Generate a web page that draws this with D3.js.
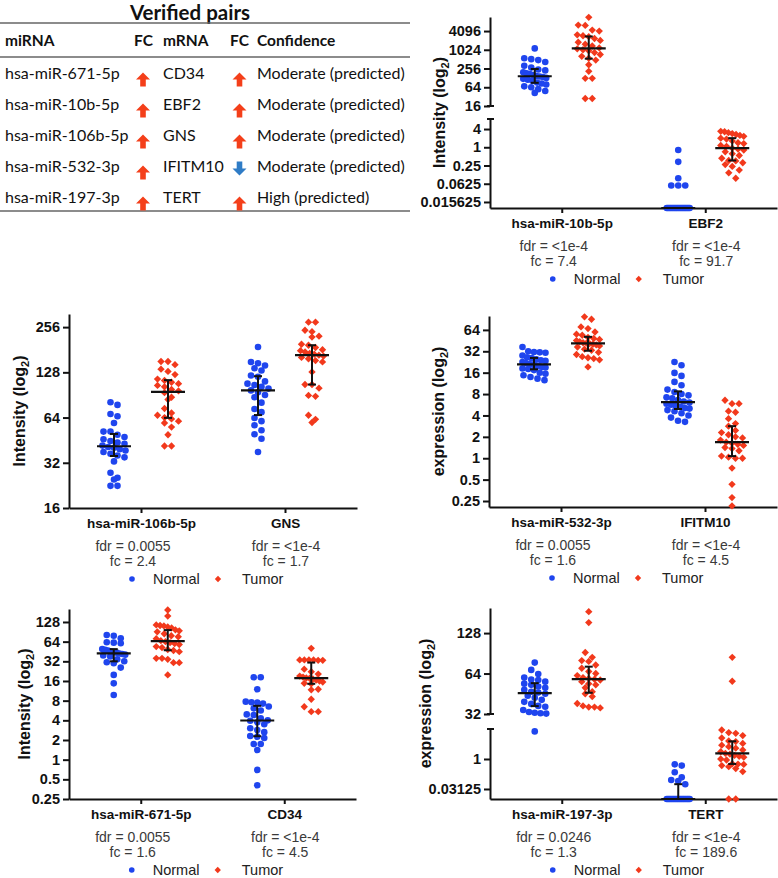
<!DOCTYPE html>
<html>
<head>
<meta charset="utf-8">
<script src="https://cdn.jsdelivr.net/npm/d3@7"></script>
<style>
  body { margin: 0; background: #fff; }
  svg { display: block; }
</style>
</head>
<body>
<div id="chart"></div>
<script>
// ---------- table data
const tableMiRNA = ["hsa-miR-671-5p", "hsa-miR-10b-5p", "hsa-miR-106b-5p", "hsa-miR-532-3p", "hsa-miR-197-3p"];
const tableMiRNAFC = ["up", "up", "up", "up", "up"];
const tableMRNA = ["CD34", "EBF2", "GNS", "IFITM10", "TERT"];
const tableMRNAFC = ["up", "up", "up", "down", "up"];
const tableConfidence = ["Moderate (predicted)", "Moderate (predicted)", "Moderate (predicted)", "Moderate (predicted)", "High (predicted)"];

// ---------- panel data (log2 values, null = not detected)
const seriesNames = ["Normal", "Tumor"];

const ebf2Cats = ["hsa-miR-10b-5p", "EBF2"];
const ebf2TicksHigh = [16, 64, 256, 1024, 4096];
const ebf2TicksLow = [0.015625, 0.0625, 0.25, 1, 4];
const ebf2Fdr = ["<1e-4", "<1e-4"];
const ebf2Fc = ["7.4", "91.7"];
const mir10bNormal = [10.15, 9.1, 9.0, 8.9, 8.7, 8.3, 8.1, 7.9, 7.8, 7.6, 7.5, 7.4, 7.3, 7.2, 7.15, 7.1, 7.0, 6.9, 6.8, 6.7, 6.5, 6.4, 6.3, 6.1, 6.0, 5.8, 5.6, 5.4];
const mir10bTumor = [13.46, 12.64, 12.6, 12.1, 12.0, 11.6, 11.5, 11.4, 11.2, 11.0, 10.8, 10.6, 10.4, 10.2, 10.1, 10.0, 9.9, 9.7, 9.5, 9.3, 9.1, 8.9, 8.4, 7.7, 6.95, 6.95, 4.8, 4.8];
const ebf2Normal = [-0.3, -1.6, -3.4, -4.2, -4.2, -4.2, null, null, null, null, null, null, null, null, null, null, null, null, null, null, null, null, null, null, null];
const ebf2Tumor = [1.75, 1.7, 1.6, 1.5, 1.4, 1.3, 1.2, 1.0, 0.9, 0.7, 0.5, 0.4, 0.2, 0.1, -0.1, -0.2, -0.3, -0.5, -0.7, -0.9, -1.2, -1.45, -1.5, -1.7, -1.9, -2.1, -2.5, -2.8, -3.4];

const gnsCats = ["hsa-miR-106b-5p", "GNS"];
const gnsTicks = [16, 32, 64, 128, 256];
const gnsFdr = ["0.0055", "<1e-4"];
const gnsFc = ["2.4", "1.7"];
const mir106bNormal = [6.34, 6.28, 6.08, 6.03, 5.88, 5.69, 5.69, 5.62, 5.57, 5.52, 5.48, 5.45, 5.42, 5.38, 5.35, 5.33, 5.3, 5.27, 5.24, 5.2, 5.16, 5.12, 5.03, 4.78, 4.67, 4.63, 4.49, 4.49];
const mir106bTumor = [7.24, 7.24, 7.17, 7.07, 7.02, 6.95, 6.85, 6.82, 6.78, 6.75, 6.71, 6.68, 6.62, 6.59, 6.55, 6.45, 6.4, 6.2, 6.1, 6.05, 6.0, 5.97, 5.92, 5.88, 5.79, 5.62, 5.37, 5.37];
const gnsNormal = [7.56, 7.23, 7.2, 7.15, 7.09, 7.04, 6.93, 6.9, 6.8, 6.75, 6.72, 6.68, 6.64, 6.6, 6.56, 6.5, 6.45, 6.33, 6.19, 6.12, 5.99, 5.92, 5.83, 5.72, 5.63, 5.53, 5.24];
const gnsTumor = [8.11, 8.11, 7.93, 7.9, 7.8, 7.78, 7.62, 7.6, 7.55, 7.5, 7.48, 7.45, 7.42, 7.4, 7.38, 7.36, 7.33, 7.3, 7.26, 7.23, 7.01, 6.73, 6.73, 6.65, 6.49, 6.47, 6.05, 5.96, 5.89];

const ifitmCats = ["hsa-miR-532-3p", "IFITM10"];
const ifitmTicks = [0.25, 0.5, 1, 2, 4, 8, 16, 32, 64];
const ifitmFdr = ["0.0055", "<1e-4"];
const ifitmFc = ["1.6", "4.5"];
const mir532Normal = [5.2, 5.0, 4.97, 4.95, 4.93, 4.8, 4.72, 4.68, 4.62, 4.58, 4.55, 4.5, 4.45, 4.4, 4.38, 4.35, 4.3, 4.27, 4.24, 4.2, 4.17, 4.12, 4.0, 3.95, 3.88, 3.8, 3.72, 3.65];
const mir532Tumor = [6.61, 6.5, 6.14, 6.06, 5.9, 5.8, 5.75, 5.65, 5.6, 5.55, 5.5, 5.45, 5.4, 5.38, 5.36, 5.33, 5.3, 5.25, 5.2, 5.1, 5.05, 4.95, 4.85, 4.75, 4.7, 4.66, 4.6, 4.27];
const ifitmNormal = [4.5, 4.35, 3.99, 3.85, 3.57, 3.41, 3.21, 3.1, 3.0, 2.94, 2.85, 2.8, 2.72, 2.65, 2.6, 2.55, 2.5, 2.45, 2.4, 2.35, 2.32, 2.25, 2.2, 2.1, 2.0, 1.9, 1.75, 1.7];
const ifitmTumor = [2.71, 2.55, 2.55, 2.2, 2.15, 1.85, 1.62, 1.5, 1.3, 1.2, 1.1, 1.0, 0.95, 0.85, 0.75, 0.7, 0.65, 0.6, 0.5, 0.45, 0.35, 0.1, 0.05, 0.0, 0.0, -0.46, -1.22, -1.84, -2.23];

const cd34Cats = ["hsa-miR-671-5p", "CD34"];
const cd34Ticks = [0.25, 0.5, 1, 2, 4, 8, 16, 32, 64, 128];
const cd34Fdr = ["0.0055", "<1e-4"];
const cd34Fc = ["1.6", "4.5"];
const mir671Normal = [6.34, 6.3, 6.17, 5.97, 5.95, 5.92, 5.62, 5.58, 5.55, 5.5, 5.47, 5.44, 5.4, 5.37, 5.34, 5.3, 5.25, 5.1, 5.0, 4.95, 4.9, 4.68, 4.31, 3.88, 3.29];
const mir671Tumor = [7.61, 7.3, 6.85, 6.82, 6.8, 6.75, 6.7, 6.6, 6.55, 6.5, 6.4, 6.3, 6.25, 6.15, 6.05, 6.0, 5.95, 5.9, 5.85, 5.75, 5.7, 5.6, 5.55, 5.49, 5.15, 5.15, 5.1, 4.93, 4.93, 4.31];
const cd34Normal = [4.19, 4.19, 3.58, 2.95, 2.92, 2.9, 2.85, 2.7, 2.61, 2.5, 2.3, 2.27, 2.1, 2.0, 1.98, 1.9, 1.8, 1.6, 1.51, 1.4, 1.2, 1.17, 1.1, 0.8, 0.8, 0.49, -0.52, -1.3];
const cd34Tumor = [5.66, 5.07, 5.07, 5.07, 5.07, 5.05, 5.05, 4.6, 4.47, 4.35, 4.25, 4.2, 4.15, 4.14, 4.1, 4.05, 4.0, 3.95, 3.88, 3.85, 3.58, 3.55, 3.07, 2.69, 2.44, 2.44];

const tertCats = ["hsa-miR-197-3p", "TERT"];
const tertTicksHigh = [32, 64, 128];
const tertTicksLow = [0.03125, 1];
const tertFdr = ["0.0246", "<1e-4"];
const tertFc = ["1.3", "189.6"];
const mir197Normal = [6.27, 6.09, 5.99, 5.9, 5.85, 5.84, 5.8, 5.75, 5.72, 5.68, 5.65, 5.6, 5.55, 5.53, 5.5, 5.45, 5.4, 5.35, 5.3, 5.25, 5.2, 5.18, 5.1, 5.05, 5.03, 5.02, 5.01, 4.6];
const mir197Tumor = [7.53, 7.26, 6.52, 6.4, 6.32, 6.3, 6.21, 6.13, 6.05, 6.0, 5.95, 5.9, 5.88, 5.86, 5.84, 5.8, 5.75, 5.72, 5.65, 5.55, 5.5, 5.43, 5.26, 5.2, 5.17, 5.17, 5.15];
const tertNormal = [-0.89, -1.1, -2.2, -3.06, -3.5, -3.67, -4.2, null, null, null, null, null, null, null, null, null, null, null, null, null, null, null, null, null, null];
const tertTumor = [6.4, 5.81, 4.83, 4.4, 4.28, 3.9, 3.5, 3.0, 2.9, 2.6, 2.3, 2.06, 1.8, 1.5, 1.2, 0.94, 0.8, 0.6, 0.45, 0.3, 0.0, -0.17, -0.8, -0.85, -0.9, -1.1, -1.28, -1.6, -2.1, null, null];

// ---------- setup
const W = 778, H = 878;
const blue = "#1f45ee", red = "#f2391c";
const colors = {Normal: blue, Tumor: red};
const ink = "#111";
const chartFont = "'Liberation Sans', Arial, sans-serif";

const svg = d3.select("#chart").append("svg")
    .attr("width", W)
    .attr("height", H)
    .style("font-family", chartFont);

const diamond = d3.symbol().type(d3.symbolSquare).size(27);

// ---------- table
const table = svg.append("g").style("font-family", "Lato, 'Open Sans', sans-serif").attr("fill", "#111");
table.append("text").attr("x", 190).attr("y", 20).attr("text-anchor", "middle")
    .attr("font-weight", "bold").attr("font-size", 20.5).text("Verified pairs");
[23, 57, 211].forEach(yy => {
    table.append("line").attr("x1", 0).attr("x2", 410).attr("y1", yy).attr("y2", yy)
        .attr("stroke", "#666").attr("stroke-width", 1.3);
});
const cols = [5, 134, 163, 230, 257];
["miRNA", "FC", "mRNA", "FC", "Confidence"].forEach((h, i) => {
    table.append("text").attr("x", cols[i]).attr("y", 46).attr("font-weight", "bold")
        .attr("font-size", 15.5).text(h);
});
const rowY = d3.scalePoint().domain(d3.range(tableMiRNA.length)).range([79, 203]);

function arrow(g, cx, cy, dir) {
    const s = dir === "up" ? 1 : -1;
    g.append("path")
        .attr("d", `M0,${-7.5 * s} L7,${-0.5 * s} L2.8,${-0.5 * s} L2.8,${6.5 * s} L-2.8,${6.5 * s} L-2.8,${-0.5 * s} L-7,${-0.5 * s} Z`)
        .attr("transform", `translate(${cx},${cy})`)
        .attr("fill", dir === "up" ? "#f43f1a" : "#2f7cc6");
}

tableMiRNA.forEach((m, i) => {
    const yy = rowY(i);
    table.append("text").attr("x", cols[0]).attr("y", yy).attr("font-size", 16).text(m);
    table.append("text").attr("x", cols[2]).attr("y", yy).attr("font-size", 16).text(tableMRNA[i]);
    table.append("text").attr("x", cols[4]).attr("y", yy).attr("font-size", 16).text(tableConfidence[i]);
    arrow(table, 143, tableMiRNAFC[i] === "up" ? yy + 1 : yy - 3, tableMiRNAFC[i]);
    arrow(table, 239.5, tableMRNAFC[i] === "up" ? yy + 1 : yy - 4, tableMRNAFC[i]);
});

// ---------- dot plots
const panels = [
    {cats: ebf2Cats, values: [[mir10bNormal, mir10bTumor], [ebf2Normal, ebf2Tumor]], fdr: ebf2Fdr, fc: ebf2Fc,
     yTitle: "Intensity", left: 490, right: 777, bottom: 208, titleDx: 45,
     segs: [{dom: [4, 13.5], rng: [106, 17], ticks: ebf2TicksHigh}, {dom: [-6.66, 3.1], rng: [208, 119], ticks: ebf2TicksLow}]},
    {cats: gnsCats, values: [[mir106bNormal, mir106bTumor], [gnsNormal, gnsTumor]], fdr: gnsFdr, fc: gnsFc,
     yTitle: "Intensity", left: 69, right: 357, bottom: 508, titleDx: 44,
     segs: [{dom: [4, 8.29], rng: [508, 314], ticks: gnsTicks}]},
    {cats: ifitmCats, values: [[mir532Normal, mir532Tumor], [ifitmNormal, ifitmTumor]], fdr: ifitmFdr, fc: ifitmFc,
     yTitle: "expression", left: 489, right: 777, bottom: 507, titleDx: 45,
     segs: [{dom: [-2.28, 6.65], rng: [507, 316], ticks: ifitmTicks}]},
    {cats: cd34Cats, values: [[mir671Normal, mir671Tumor], [cd34Normal, cd34Tumor]], fdr: cd34Fdr, fc: cd34Fc,
     yTitle: "Intensity", left: 69, right: 356, bottom: 799, titleDx: 39,
     segs: [{dom: [-2, 7.66], rng: [799, 609], ticks: cd34Ticks}]},
    {cats: tertCats, values: [[mir197Normal, mir197Tumor], [tertNormal, tertTumor]], fdr: tertFdr, fc: tertFc,
     yTitle: "expression", left: 490, right: 777, bottom: 799, titleDx: 59,
     segs: [{dom: [5, 7.62], rng: [714, 608], ticks: tertTicksHigh}, {dom: [-6.67, 5], rng: [799, 729], ticks: tertTicksLow}]}
];

// rows of points (GraphPad-like scatter): points close in y share a row and are spread sideways
function swarm(ys, rowH, gap, maxHalf) {
    const order = d3.range(ys.length).sort((a, b) => ys[a] - ys[b]);
    const dx = new Array(ys.length).fill(0);
    let row = [], start = null;
    const flush = () => {
        const n = row.length;
        let step = gap;
        if (n > 1 && (n - 1) * step / 2 > maxHalf) step = 2 * maxHalf / (n - 1);
        row.forEach((m, k) => dx[m] = (k - (n - 1) / 2) * step);
        row = [];
    };
    order.forEach(i => {
        if (start === null || ys[i] - start > rowH) { flush(); start = ys[i]; }
        row.push(i);
    });
    flush();
    return dx;
}

function styleAxis(ax) {
    ax.attr("font-family", null).style("font-family", chartFont);
    ax.select(".domain").attr("stroke", ink).attr("stroke-width", 2);
    ax.selectAll(".tick line").attr("stroke", ink).attr("stroke-width", 2);
    ax.selectAll(".tick text").attr("fill", ink).attr("font-weight", "bold");
}

function drawPanel(p) {
    const g = svg.append("g");
    const x = d3.scalePoint().domain(p.cats).range([p.left, p.right]).padding(0.5);
    const sub = d3.scalePoint().domain(seriesNames).range([-27, 27]);
    p.segs.forEach(s => s.scale = d3.scaleLinear().domain(s.dom).range(s.rng));
    const floor = p.segs[p.segs.length - 1].dom[0];
    const y = v => {
        const val = v == null ? floor : v;
        const s = p.segs.find(s => val >= s.dom[0]) || p.segs[p.segs.length - 1];
        return s.scale(Math.max(val, s.dom[0]));
    };
    const top = d3.min(p.segs, s => s.rng[1]);

    // y axis (one per segment)
    p.segs.forEach(s => {
        const ax = g.append("g").attr("transform", `translate(${p.left},0)`)
            .call(d3.axisLeft(s.scale)
                .tickValues(s.ticks.map(Math.log2))
                .tickFormat((d, i) => s.ticks[i])
                .tickSize(6).tickSizeOuter(0).tickPadding(3));
        styleAxis(ax);
        ax.selectAll(".tick text").attr("font-size", 14.5);
    });
    if (p.segs.length > 1) {
        [p.segs[0].rng[0], p.segs[1].rng[1]].forEach(yy => {
            g.append("line").attr("x1", p.left - 3).attr("x2", p.left + 4)
                .attr("y1", yy).attr("y2", yy).attr("stroke", ink).attr("stroke-width", 2);
        });
    }

    // x axis
    const xa = g.append("g").attr("transform", `translate(0,${p.bottom})`)
        .call(d3.axisBottom(x).tickSize(5).tickSizeOuter(0).tickPadding(5));
    styleAxis(xa);
    xa.selectAll(".tick text").attr("font-size", 13.5);

    // y title
    const tt = g.append("text")
        .attr("transform", `translate(${p.left - p.titleDx},${(top + p.bottom) / 2}) rotate(-90)`)
        .attr("text-anchor", "middle").attr("font-weight", "bold").attr("font-size", 16).attr("fill", ink);
    tt.append("tspan").text(p.yTitle + " (log");
    tt.append("tspan").attr("font-size", 11).attr("dy", 4).text("2");
    tt.append("tspan").attr("dy", -4).text(")");

    // points and median + IQR
    p.cats.forEach((c, ci) => {
        seriesNames.forEach((sn, si) => {
            const vals = p.values[ci][si];
            const cx = x(c) + sub(sn);
            const ys = vals.map(y);
            const dx = swarm(ys, 6, 7, 11.5);
            const pts = g.append("g");
            vals.forEach((v, k) => {
                if (sn === "Normal") {
                    pts.append("circle").attr("cx", cx + dx[k]).attr("cy", ys[k]).attr("r", 3.3).attr("fill", colors[sn]);
                } else {
                    pts.append("path").attr("d", diamond)
                        .attr("transform", `translate(${cx + dx[k]},${ys[k]}) rotate(45)`).attr("fill", colors[sn]);
                }
            });
            const sorted = vals.map(v => v == null ? floor : v).sort(d3.ascending);
            const med = d3.quantile(sorted, 0.5), q1 = d3.quantile(sorted, 0.25), q3 = d3.quantile(sorted, 0.75);
            const eb = g.append("g").attr("stroke", ink).attr("stroke-width", 2);
            eb.append("line").attr("x1", cx).attr("x2", cx).attr("y1", y(q1)).attr("y2", y(q3));
            [q1, q3].forEach(q => eb.append("line").attr("x1", cx - 4).attr("x2", cx + 4).attr("y1", y(q)).attr("y2", y(q)));
            eb.append("line").attr("x1", cx - 17).attr("x2", cx + 17).attr("y1", y(med)).attr("y2", y(med)).attr("stroke-width", 2.2);
        });

        // statistics under each pair member
        const sx = x(c) + (ci === 0 ? -8 : 1);
        g.append("text").attr("x", sx).attr("y", p.bottom + 43).attr("text-anchor", "middle")
            .attr("font-size", 14).attr("fill", "#3a3a3a").text("fdr = " + p.fdr[ci]);
        g.append("text").attr("x", sx).attr("y", p.bottom + 58).attr("text-anchor", "middle")
            .attr("font-size", 14).attr("fill", "#3a3a3a").text("fc = " + p.fc[ci]);
    });

    // legend
    const lx = x(p.cats[0]), ly = p.bottom + 71;
    g.append("circle").attr("cx", lx - 9).attr("cy", ly).attr("r", 2.8).attr("fill", blue);
    g.append("text").attr("x", lx + 12).attr("y", ly + 5).attr("font-size", 14.5).attr("fill", "#222").text("Normal");
    g.append("path").attr("d", d3.symbol().type(d3.symbolSquare).size(20))
        .attr("transform", `translate(${lx + 77},${ly}) rotate(45)`).attr("fill", red);
    g.append("text").attr("x", lx + 101).attr("y", ly + 5).attr("font-size", 14.5).attr("fill", "#222").text("Tumor");
}

panels.forEach(drawPanel);
</script>
</body>
</html>
